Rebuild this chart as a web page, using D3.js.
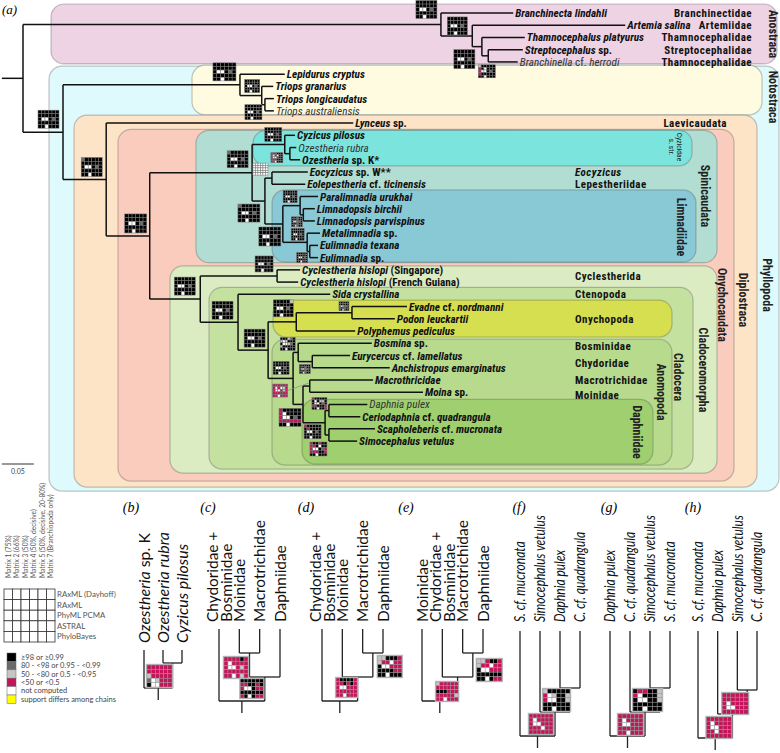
<!DOCTYPE html>
<html><head><meta charset="utf-8">
<script src="https://cdn.jsdelivr.net/npm/d3@7"></script>
<style>body{margin:0;background:#fff}svg{display:block}</style>
</head><body><svg id="c" width="780" height="753"></svg>
<script>
// ================= DATA =================
const taxa = [
 "Branchinecta lindahli","Artemia salina","Thamnocephalus platyurus","Streptocephalus sp.","Branchinella cf. herrodi",
 "Lepidurus cryptus","Triops granarius","Triops longicaudatus","Triops australiensis",
 "Lynceus sp.",
 "Cyzicus pilosus","Ozestheria rubra","Ozestheria sp. K*","Eocyzicus sp. W**","Eolepestheria cf. ticinensis",
 "Paralimnadia urukhai","Limnadopsis birchii","Limnadopsis parvispinus","Metalimnadia sp.","Eulimnadia texana","Eulimnadia sp.",
 "Cyclestheria hislopi (Singapore)","Cyclestheria hislopi (French Guiana)",
 "Sida crystallina","Evadne cf. nordmanni","Podon leuckartii","Polyphemus pediculus",
 "Bosmina sp.","Eurycercus cf. lamellatus","Anchistropus emarginatus","Macrothricidae","Moina sp.",
 "Daphnia pulex","Ceriodaphnia cf. quadrangula","Scapholeberis cf. mucronata","Simocephalus vetulus"];
// distance of each tip from the root (substitutions/site)
const tipDepth = [0.766,0.941,0.784,0.781,0.773, 0.409,0.391,0.392,0.392, 0.516,
 0.425,0.427,0.433,0.445,0.441, 0.461,0.456,0.456,0.464,0.461,0.461, 0.433,0.430,
 0.480,0.600,0.581,0.519, 0.545,0.511,0.573,0.547,0.625, 0.538,0.527,0.550,0.522];
// internal nodes: [id, depth from root, child A, child B]
const clades = [
 ["root",0,"Anostraca","Phyllopoda"],
 ["Anostraca",0.653,"Branchinecta lindahli","A1"],
 ["A1",0.702,"Artemia salina","A2"],
 ["A2",0.717,"Thamnocephalus platyurus","A3"],
 ["A3",0.727,"Streptocephalus sp.","Branchinella cf. herrodi"],
 ["Phyllopoda",0.0625,"Notostraca","Diplostraca"],
 ["Notostraca",0.339,"Lepidurus cryptus","T1"],
 ["T1",0.373,"Triops granarius","T2"],
 ["T2",0.378,"Triops longicaudatus","Triops australiensis"],
 ["Diplostraca",0.130,"Lynceus sp.","Onychocaudata"],
 ["Onychocaudata",0.198,"Spinicaudata","Cladoceromorpha"],
 ["Spinicaudata",0.358,"Cyzicidae","S2"],
 ["Cyzicidae",0.409,"Cyzicus pilosus","Oz"],
 ["Oz",0.417,"Ozestheria rubra","Ozestheria sp. K*"],
 ["S2",0.378,"Lepestheriidae","Limnadiidae"],
 ["Lepestheriidae",0.389,"Eocyzicus sp. W**","Eolepestheria cf. ticinensis"],
 ["Limnadiidae",0.406,"P","M"],
 ["P",0.433,"Paralimnadia urukhai","P1"],
 ["P1",0.438,"Limnadopsis birchii","Limnadopsis parvispinus"],
 ["M",0.444,"Metalimnadia sp.","E1"],
 ["E1",0.448,"Eulimnadia texana","Eulimnadia sp."],
 ["Cladoceromorpha",0.277,"Cyclestherida","Cladocera"],
 ["Cyclestherida",0.397,"Cyclestheria hislopi (Singapore)","Cyclestheria hislopi (French Guiana)"],
 ["Cladocera",0.336,"Sida crystallina","N"],
 ["N",0.383,"Onychopoda","Anomopoda"],
 ["Onychopoda",0.427,"EP","Polyphemus pediculus"],
 ["EP",0.514,"Evadne cf. nordmanni","Podon leuckartii"],
 ["Anomopoda",0.422,"BC","MMD"],
 ["BC",0.430,"Bosmina sp.","Chy"],
 ["Chy",0.452,"Eurycercus cf. lamellatus","Anchistropus emarginatus"],
 ["MMD",0.4375,"MM","Daph"],
 ["MM",0.448,"Macrothricidae","Moina sp."],
 ["Daph",0.472,"DC","SS"],
 ["DC",0.478,"Daphnia pulex","Ceriodaphnia cf. quadrangula"],
 ["SS",0.478,"Scapholeberis cf. mucronata","Simocephalus vetulus"]];
const rootStub = 0.033;
const scaleBarValue = 0.05;
// clade boxes: [name, first tip, last tip]
const cladeBoxes = [
 ["Anostraca",0,4],["Phyllopoda",5,35],["Notostraca",5,8],["Diplostraca",9,35],
 ["Onychocaudata",10,35],["Spinicaudata",10,20],["Cyzicidae s. str.",10,12],["Limnadiidae",15,20],
 ["Cladoceromorpha",21,35],["Cladocera",23,35],["Onychopoda",24,26],["Anomopoda",27,35],["Daphniidae",32,35]];
// family names at right: [text, tip row, italic?]
const familyLabels = [
 ["Branchinectidae",0],["Artemiidae",1],["Thamnocephalidae",2],["Streptocephalidae",3],["Thamnocephalidae",4],
 ["Laevicaudata",9],["Eocyzicus",13,true],["Lepestheriidae",14],["Cyclestherida",21.5],["Ctenopoda",23],
 ["Onychopoda",25],["Bosminidae",27.2],["Chydoridae",28.6],["Macrotrichidae",30],["Moinidae",31.2]];
// support matrices (5 methods x 6 matrices, row-major). b>=98, d 80-98, l 50-80, m <50, w not computed, y differs
const FULL = "bbbbbb"+"bbbbbb"+"bwwbdb"+"bbbbbb"+"bbwbbb";
const supportMain = [
 ["Anostraca",FULL],["A1",FULL],["A2",FULL],
 ["A3","lbbbbb"+"mbwbbb"+"mwwbdb"+"mbbbbb"+"bbwbbb"],
 ["Phyllopoda",FULL],["Notostraca",FULL],["T1",FULL],["T2",FULL],
 ["Diplostraca","dbbbbb"+"bbbbbb"+"bwwbdb"+"bbbbbb"+"bbwbbb"],
 ["Onychocaudata",FULL],
 ["Spinicaudata","dbbbbb"+"bbbbbb"+"bwwbdb"+"bbbbbb"+"bbwbbb"],
 ["Cyzicidae",FULL],
 ["Oz","mmmbbb"+"mwmwbb"+"mwwmbb"+"mmmbbb"+"mmwbbb"],
 ["Lepestheriidae","wwwwww"+"wwwwww"+"wwwwww"+"wwwwww"+"wwwwww"],
 ["S2","dbbbbb"+"bbbbbb"+"bwwbdb"+"bbbbbb"+"bbwbbb"],
 ["Limnadiidae",FULL],["P",FULL],["P1",FULL],["M",FULL],["E1",FULL],
 ["Cladoceromorpha",FULL],["Cyclestherida",FULL],["Cladocera",FULL],["N",FULL],
 ["Onychopoda","bbbbbl"+"bbbbbb"+"bwwbdb"+"bbbbbb"+"bbwbbb"],
 ["EP",FULL],["Anomopoda",FULL],
 ["BC","bbbldb"+"lwlbbb"+"bwwldb"+"lbbbbb"+"bbwbbb"],
 ["Chy",FULL],
 ["MM","mmmmmm"+"mwmwlm"+"mwwmlm"+"mmmmmm"+"mmwmmm"],
 ["MMD","mbbbbb"+"mwbbbb"+"mwwbdb"+"mmmmmm"+"bbwbbb"],
 ["DC","mbbbbb"+"bwbllb"+"bwwbdb"+"mmbbbm"+"bbwbbm"],
 ["Daph","mbbbbb"+"bmbbbb"+"bwwbdb"+"bbbbbb"+"bbwbbb"],
 ["SS","mbbmbb"+"mmbwbb"+"mwwbdm"+"mmmbbm"+"bbwbbb"]];

// alternative topologies (b)-(h)
const panelNames = ["(b)","(c)","(d)","(e)","(f)","(g)","(h)"];
const taxaB = ["Ozestheria sp. K","Ozestheria rubra","Cyzicus pilosus"];
const taxaC = ["Chydoridae +\nBosminidae","Moinidae","Macrotrichidae","Daphniidae"];
const taxaD = ["Chydoridae +\nBosminidae","Moinidae","Macrotrichidae","Daphniidae"];
const taxaE = ["Moinidae","Chydoridae +\nBosminidae","Macrotrichidae","Daphniidae"];
const taxaF = ["S. cf. mucronata","Simocephalus vetulus","Daphnia pulex","C. cf. quadrangula"];
const taxaG = ["Daphnia pulex","C. cf. quadrangula","Simocephalus vetulus","S. cf. mucronata"];
const taxaH = ["S. cf. mucronata","Daphnia pulex","Simocephalus vetulus","C. cf. quadrangula"];
const treeB = [0,[1,2]];
const treeC = [0,[[1,2],3]];
const treeD = [0,[1,[2,3]]];
const treeE = [0,[1,[2,3]]];
const treeF = [0,[1,[2,3]]];
const treeG = [0,[1,[2,3]]];
const treeH = [0,[1,[2,3]]];
// support per internal node, post-order (null = none)
const supB = ["mmmmmm"+"mmmmmm"+"lmmmmm"+"dwlmmm"+"bwwmmm", null];
const supC = ["mmmmbm"+"mwmmmm"+"mwwmlm"+"mmmmmm"+"mmwmlm", "bbbbbb"+"mmbbmb"+"mwwbmm"+"bbbbbb"+"mbwbmm", null];
const supD = ["llbbbm"+"lmmwmm"+"bwwmmm"+"bbbbmm"+"bbwbbb", "mbbbbm"+"mmbmbm"+"mwwmmm"+"mmmmmm"+"mmwmmm", null];
const supE = ["llmbbm"+"lmmwmm"+"bwwmmm"+"bbbbbb"+"bbwbmm", "lmmmmm"+"mmmmmm"+"bbbmmm"+"mmmmml"+"mmwmmm", null];
const supF = ["lbbbbb"+"mwlbbl"+"mwwbbl"+"bbbbbb"+"bbwbbb", "mmmmmm"+"mwmmmm"+"mwwmmm"+"mmmwmm"+"mmmmmm", null];
const supG = ["bmmbbl"+"mwbbbl"+"bwwbbl"+"bbbbbb"+"bbwbbb", "mmmmmm"+"mwmmmm"+"mwwmmm"+"mmmmmm"+"mmwmmm", null];
const supH = ["mmmmmm"+"mmmmmm"+"mwmmmm"+"mwwmmm"+"mmmmmm", "mmmmmm"+"mwmmmm"+"mwwmmm"+"mmwmmm"+"mmmmmm", null];

// legend
const matrixNames = ["Matrix 1 (75%)","Matrix 2 (66%)","Matrix 3 (50%)","Matrix 4 (50%, decisive)","Matrix 5 (50%, decisive, 20-80%)","Matrix 7 (Branchiopoda only)"];
const methodNames = ["RAxML (Dayhoff)","RAxML","PhyML PCMA","ASTRAL","PhyloBayes"];
const supportClasses = ["b","d","l","m","w","y"];
const supportClassLabels = ["\u226598 or \u22650.99","80 - <98 or 0.95 - <0.99","50 - <80 or 0.5 - <0.95","<50 or <0.5","not computed","support differs among chains"];

// ================= STYLE / LAYOUT =================
const cellColor = {b:"#000",d:"#6a6a6a",l:"#c6c6c6",m:"#c4145a",w:"#fff",y:"#ffff00"};
const thinTaxa = ["Branchinella cf. herrodi","Triops australiensis","Ozestheria rubra","Daphnia pulex"];
const NARROW = "'Roboto Condensed','Open Sans Condensed',sans-serif";
const SANS = "Lato,'Open Sans',sans-serif";
const SERIF = "'Liberation Serif','DejaVu Serif',serif";
const boxLayout = {
 "Anostraca":{x0:51,x1:777,t:9,b:2,fill:"#edd3e4",lx:773,ly:34},
 "Phyllopoda":{x0:49,x1:779,t:8,b:50,fill:"#dffafc",lx:767,ly:285},
 "Notostraca":{x0:192,x1:762,t:9,b:4,fill:"#fefbe1",lx:773,ly:97},
 "Diplostraca":{x0:74,x1:757,t:8,b:46,fill:"#fde4c7",lx:743,ly:300},
 "Onychocaudata":{x0:118,x1:734,t:6,b:40,fill:"#f9ccbe",lx:722,ly:305},
 "Spinicaudata":{x0:196,x1:717,t:5,b:5,fill:"#b2ddd2",lx:705,ly:196},
 "Cyzicidae s. str.":{x0:253,x1:692,t:5,b:6,fill:"#7be5dd",lx:676,ly:147,small:true},
 "Limnadiidae":{x0:272,x1:696,t:6.5,b:4.5,fill:"#89c8d5",lx:681,ly:227},
 "Cladoceromorpha":{x0:170,x1:717,t:4,b:32,fill:"#dbebc2",lx:703,ly:370},
 "Cladocera":{x0:209,x1:693,t:7,b:28,fill:"#c5e19f",lx:678,ly:377},
 "Onychopoda":{x0:273,x1:672,t:6.5,b:6,fill:"#d5df50",lx:null},
 "Anomopoda":{x0:272,x1:672,t:4,b:24,fill:"#b7da8c",lx:661,ly:392},
 "Daphniidae":{x0:302,x1:653,t:5,b:23,fill:"#9fcf6e",lx:637,ly:432}};
// support box placement relative to its node: [dx, dy, w, h]
const boxAt = {
 Anostraca:[-25,-24,21,18],A1:[-25,-19,20,18],A2:[-28,3,21,19],A3:[-10,9,17,13],
 Phyllopoda:[-25,-22,21,18],Notostraca:[-27,-22,23,18],T1:[-17,-16,15,13],T2:[-20,0,17,15],
 Diplostraca:[-25,-22,21,19],Onychocaudata:[-25,-22,22,19],Spinicaudata:[-25,-22,21,17],
 Cyzicidae:[-20,-17,17,14],Oz:[-19,-1,12,10],Lepestheriidae:[-19,-15,15,12],S2:[-27,3,22,18],
 Limnadiidae:[-24,3,22,19],P:[-17,-15,14,12],P1:[-12,2,11,10],M:[-16,-14,13,12],E1:[-13,1,11,10],
 Cladoceromorpha:[-26,-22,21,18],Cyclestherida:[-22,-20,18,16],Cladocera:[-26,-21,21,18],N:[-24,-21,21,18],
 Onychopoda:[-23,-22,20,17],EP:[-13,-11,10,9],Anomopoda:[-20,-17,16,13],BC:[-18,-15,15,13],Chy:[-13,3,11,9],
 MM:[-37,-2,15,13],MMD:[-24,4,22,18],DC:[-17,-13,15,12],Daph:[-21,2,17,14],SS:[-19,7,17,14]};
const panelLayout = [
 {taxa:taxaB,tree:treeB,sup:supB,x:[144,182],lab:131,labBottom:643,tipTop:650,base:663,step:25,italic:"b",fs:16,sx:1,
  boxes:[[-25.5,2,25,22]]},
 {taxa:taxaC,tree:treeC,sup:supC,x:[219,280],lab:208,labBottom:622,tipTop:629,base:653,step:24,italic:"none",fs:15.4,sx:1,
  boxes:[[-25.5,4,24,21],[-24.5,2,23,19]]},
 {taxa:taxaD,tree:treeD,sup:supD,x:[322,383],lab:306,labBottom:622,tipTop:629,base:653,step:24,italic:"none",fs:15.4,sx:1,
  boxes:[[5,3,24,21],[-21.5,1,21,19]]},
 {taxa:taxaE,tree:treeE,sup:supE,x:[422,483],lab:406,labBottom:622,tipTop:629,base:653,step:24,italic:"none",fs:15.4,sx:1,
  boxes:[[4,6,25,22],[-21.5,5,22,19]]},
 {taxa:taxaF,tree:treeF,sup:supF,x:[520,580],lab:519,labBottom:622,tipTop:631,base:688,step:24,italic:"all",fs:14.5,sx:0.83,
  boxes:[[-27,1,27,22],[-26,2,24,20]]},
 {taxa:taxaG,tree:treeG,sup:supG,x:[610,670],lab:609,labBottom:622,tipTop:631,base:688,step:24,italic:"all",fs:14.5,sx:0.83,
  boxes:[[-27,1,29,22],[-27,2,25,21]]},
 {taxa:taxaH,tree:treeH,sup:supH,x:[698,757],lab:693,labBottom:622,tipTop:631,base:690,step:24,italic:"all",fs:14.5,sx:0.83,
  boxes:[[-25,3,26,21],[-26,3,25,21]]}];

// ================= DRAW =================
const svg = d3.select("#c");
const x = d3.scaleLinear().domain([0,1]).range([23,663]);
const y = d3.scaleLinear().domain([0,taxa.length-1]).range([13,441.1]);

// clade boxes
const gBox = svg.append("g");
cladeBoxes.forEach(([name,a,b])=>{
  const L = boxLayout[name];
  const y0 = y(a)-L.t, y1 = y(b)+L.b;
  gBox.append("rect").attr("x",L.x0).attr("y",y0).attr("width",L.x1-L.x0).attr("height",y1-y0)
    .attr("rx",13).attr("fill",L.fill).attr("stroke","rgba(90,90,90,0.35)").attr("stroke-width",1.2);
});
cladeBoxes.forEach(([name])=>{
  const L = boxLayout[name];
  if (L.lx==null) return;
  if (L.small) {
    const parts = name.split(" s. ");
    const t = gBox.append("text").attr("transform",`translate(${L.lx},${L.ly}) rotate(90)`)
      .attr("text-anchor","middle").attr("font-family",NARROW).attr("font-size",7.5).attr("fill","#222");
    t.append("tspan").attr("x",0).attr("dy","-0.15em").text(parts[0]);
    t.append("tspan").attr("x",0).attr("dy","1.05em").text("s. "+parts[1]);
    return;
  }
  gBox.append("text").attr("transform",`translate(${L.lx},${L.ly}) rotate(90)`)
    .attr("text-anchor","middle").attr("dominant-baseline","central")
    .attr("font-family",NARROW).attr("font-weight","bold").attr("font-size",12).attr("fill","#222").text(name);
});

// tree
const tipIndex = new Map(taxa.map((t,i)=>[t,i]));
const nodeMap = new Map(clades.map(c=>[c[0],{id:c[0],depth:c[1],kids:[c[2],c[3]]}]));
const pos = new Map();
function place(id){
  if (pos.has(id)) return pos.get(id);
  let p;
  if (tipIndex.has(id)) { const i=tipIndex.get(id); p={x:x(tipDepth[i]),y:y(i)}; }
  else { const n=nodeMap.get(id); const a=place(n.kids[0]), b=place(n.kids[1]); p={x:x(n.depth),y:(a.y+b.y)/2,a,b}; }
  pos.set(id,p); return p;
}
place("root");
const gTree = svg.append("g").attr("stroke","#111").attr("stroke-width",1.5).attr("fill","none");
clades.forEach(c=>{
  const p = pos.get(c[0]);
  gTree.append("line").attr("x1",p.x).attr("x2",p.x).attr("y1",p.a.y).attr("y2",p.b.y);
  [p.a,p.b].forEach(k=>gTree.append("line").attr("x1",p.x).attr("x2",k.x).attr("y1",k.y).attr("y2",k.y));
});
const rp = pos.get("root");
gTree.append("line").attr("x1",x(-rootStub)).attr("x2",rp.x).attr("y1",rp.y).attr("y2",rp.y);

// tip labels
const uprightTok = /^(sp\.|cf\.|K\*|W\*\*|\(.*|.*\))$/;
const gLab = svg.append("g").attr("font-family",NARROW).attr("font-size",11.2);
taxa.forEach((t,i)=>{
  const thin = thinTaxa.includes(t);
  const txt = gLab.append("text").attr("x",x(tipDepth[i])+2).attr("y",y(i)).attr("dy","0.36em")
     .attr("font-weight",thin?"normal":"bold").attr("fill",thin?"#333":"#111");
  t.split(" ").forEach((tok,k)=>{
    txt.append("tspan").attr("font-style",uprightTok.test(tok)?"normal":"italic").text((k?" ":"")+tok);
  });
});
// family labels
const gFam = svg.append("g").attr("font-family",NARROW).attr("font-weight","bold").attr("font-size",11)
  .attr("letter-spacing",0.45).attr("fill","#111");
familyLabels.forEach(([t,r,it],i)=>{
  const right = i<5 || t==="Laevicaudata";
  gFam.append("text").attr("x",right?(t==="Laevicaudata"?727:752):575).attr("y",y(r)).attr("dy","0.36em")
    .attr("text-anchor",right?"end":"start").attr("font-style",it?"italic":"normal").text(t);
});

// support grids
function grid(g,x0,y0,w,h,pat,line){
  const cw=w/6, ch=h/5;
  const gg = g.append("g");
  pat.split("").forEach((c,k)=>{
    const r=Math.floor(k/6), col=k%6;
    gg.append("rect").attr("x",x0+col*cw).attr("y",y0+r*ch).attr("width",cw).attr("height",ch)
      .attr("fill",cellColor[c]).attr("stroke",line).attr("stroke-width",0.5);
  });
  return gg;
}
const gSup = svg.append("g");
supportMain.forEach(([id,pat])=>{
  const p = pos.get(id), b = boxAt[id];
  grid(gSup,p.x+b[0],p.y+b[1],b[2],b[3],pat,"#777");
  if (id==="MM") gSup.append("line").attr("x1",p.x+b[0]+b[2]).attr("y1",p.y+b[1]+b[3]/2)
      .attr("x2",p.x-1).attr("y2",p.y-3).attr("stroke","#888").attr("stroke-width",0.7);
});

// (a) and scale bar
svg.append("text").attr("x",2).attr("y",14).attr("font-family",SERIF).attr("font-style","italic").attr("font-size",13).text("(a)");
svg.append("line").attr("x1",x(-rootStub)).attr("x2",x(-rootStub+scaleBarValue)).attr("y1",464).attr("y2",464)
  .attr("stroke","#333").attr("stroke-width",1.2);
svg.append("text").attr("x",(x(-rootStub)+x(-rootStub+scaleBarValue))/2).attr("y",474).attr("text-anchor","middle")
  .attr("font-family",SANS).attr("font-size",7).attr("fill","#444").text(scaleBarValue.toFixed(2));

// ---------- panels b-h ----------
panelLayout.forEach((P,pi)=>{
  const g = svg.append("g");
  g.append("text").attr("x",P.lab).attr("y",512).attr("text-anchor","middle").attr("font-family",SERIF)
    .attr("font-style","italic").attr("font-size",14).text(panelNames[pi]);
  const xs = d3.scalePoint().domain(d3.range(P.taxa.length)).range(P.x);
  P.taxa.forEach((t,i)=>{
    const lines = t.split("\n");
    lines.forEach((ln,li)=>{
      const cx = xs(i) + (lines.length>1 ? (li===0?-7:7) : 0);
      const txt = g.append("text").attr("transform",`translate(${cx},${P.labBottom}) rotate(-90) scale(${P.sx},1)`)
        .attr("dy","0.36em").attr("font-family",SANS).attr("font-size",P.fs).attr("fill","#111");
      if (P.italic==="all") txt.attr("font-style","italic").text(ln);
      else if (P.italic==="b") {
        const w = ln.split(" ");
        txt.append("tspan").attr("font-style","italic").text(w[0]);
        txt.append("tspan").attr("font-style", w[1]==="sp."?"normal":"italic").text(" "+w.slice(1).join(" "));
      } else txt.text(ln);
    });
  });
  const internals = [];
  function rec(t){
    if (typeof t==="number") return {x:xs(t),h:0,top:P.tipTop};
    const kids = t.map(rec);
    const h = 1+d3.max(kids,k=>k.h);
    const n = {kids,h,x:d3.mean(kids,k=>k.x)};
    n.top = n.y = P.base+(h-1)*P.step;
    internals.push(n);
    return n;
  }
  const root = rec(P.tree);
  const lg = g.append("g").attr("stroke","#222").attr("stroke-width",1.3);
  internals.forEach(n=>{
    lg.append("line").attr("x1",d3.min(n.kids,k=>k.x)).attr("x2",d3.max(n.kids,k=>k.x)).attr("y1",n.y).attr("y2",n.y);
    n.kids.forEach(k=>lg.append("line").attr("x1",k.x).attr("x2",k.x).attr("y1",k.top).attr("y2",n.y));
  });
  lg.append("line").attr("x1",root.x).attr("x2",root.x).attr("y1",root.y).attr("y2",root.y+12);
  internals.forEach((n,k)=>{
    if (!P.sup[k]) return;
    const b = P.boxes[k];
    g.append("rect").attr("x",n.x+b[0]-1.2).attr("y",n.y+b[1]-1.2).attr("width",b[2]+2.4).attr("height",b[3]+2.4)
      .attr("fill","#bbb");
    grid(g,n.x+b[0],n.y+b[1],b[2],b[3],P.sup[k],"#999");
  });
});

// ---------- legend ----------
const lgd = svg.append("g");
const lx0=4, ly0=589, lcw=8.5, lch=10.6;
matrixNames.forEach((m,i)=>{
  lgd.append("text").attr("transform",`translate(${lx0+lcw*(i+0.5)},578) rotate(-90)`).attr("dy","0.35em")
    .attr("font-family",SANS).attr("font-size",6.6).attr("fill","#555").text(m);
});
methodNames.forEach((m,r)=>{
  matrixNames.forEach((_,c)=>{
    lgd.append("rect").attr("x",lx0+c*lcw).attr("y",ly0+r*lch).attr("width",lcw).attr("height",lch)
      .attr("fill","#fff").attr("stroke","#333").attr("stroke-width",0.8);
  });
  lgd.append("text").attr("x",lx0+6*lcw+2).attr("y",ly0+(r+0.5)*lch).attr("dy","0.35em")
    .attr("font-family",SANS).attr("font-size",7.8).attr("fill","#555").text(m);
});
supportClasses.forEach((c,i)=>{
  lgd.append("rect").attr("x",7).attr("y",653+i*8.4).attr("width",9).attr("height",8.4)
    .attr("fill",cellColor[c]).attr("stroke","#666").attr("stroke-width",0.5);
  lgd.append("text").attr("x",21).attr("y",653+(i+0.5)*8.4).attr("dy","0.35em")
    .attr("font-family",SANS).attr("font-size",7.5).attr("fill","#444").text(supportClassLabels[i]);
});
</script></body></html>
